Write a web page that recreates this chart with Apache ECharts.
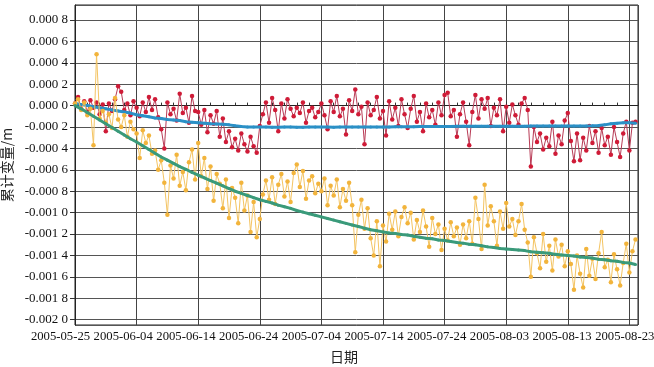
<!DOCTYPE html>
<html>
<head>
<meta charset="utf-8">
<script src="https://cdn.jsdelivr.net/npm/echarts@6/dist/echarts.min.js"></script>
<style>
  html, body { margin: 0; padding: 0; background: #fff; }
  #chart { width: 654px; height: 367px; }
</style>
</head>
<body>
<div id="chart"></div>
<script>
// values in units of 0.0001 m
const xTickLabels = ["2005-05-25", "2005-06-04", "2005-06-14", "2005-06-24", "2005-07-04",
  "2005-07-14", "2005-07-24", "2005-08-03", "2005-08-13", "2005-08-23"]

// sampled every half day
const redValues = [
  0.2, 0.8, -0.3, 0.4, -0.6, 0.5, -0.2, 0.3, -0.8, 0.1, -2.4, 0.2, -0.5, 0.6, 1.8, 1.3, -0.4, 0.2, -0.9, 0.4,
  -0.2, -1.0, 0.3, -0.6, 0.8, -0.4, 0.6, -1.1, -2.2, -4.0, 0.3, -0.8, -0.3, -1.4, 1.1, -0.7, -0.2, -1.6, 0.9, -0.5,
  -0.6, -1.8, -0.4, -2.5, -0.9, -1.7, -0.5, -2.9, -1.2, -3.4, -2.4, -3.9, -3.1, -4.2, -2.6, -3.6, -4.3, -2.9, -3.8, -4.4,
  -1.9, -0.8, 0.3, -1.6, 0.7, -0.4, -2.4, 0.2, -1.2, 0.6, -0.3, -1.0, -0.2, -0.7, 0.3, -1.6, -0.5, -0.2, -1.1, -0.6,
  0.2, -0.9, -2.2, 0.4, -0.6, 0.9, -1.0, -0.3, -2.7, 0.5, -0.5, 1.5, -0.8, -0.1, -3.6, 0.3, -0.9, -0.4, 0.8, -1.2,
  -0.5, -2.8, 0.4, -1.3, -0.2, -1.9, 0.6, -0.8, -2.1, -0.3, 0.9, -1.5, -0.6, -2.4, 0.2, -1.1, -0.4, -1.8, 0.3, -0.9,
  1.0, 1.2, -1.0, -0.4, -2.9, -0.8, 0.3, -1.5, -3.7, -0.6, 1.0, -1.2, 0.6, -0.3, 0.7, -1.9, -0.2, -0.9, 0.6, -2.4,
  -0.1, -1.6, 0.1, -0.9, -1.8, 0.2, 0.7, -0.4, -5.7, -2.0, -3.4, -2.6, -4.1, -3.0, -3.8, -1.5, -4.5, -2.8, -3.6, -1.4,
  -0.7, -3.3, -5.2, -2.6, -5.1, -3.0, -4.2, -1.9, -3.5, -2.4, -4.4, -2.1, -3.7, -2.9, -4.6, -2.0, -3.4, -4.8, -2.6, -1.5,
  -4.2, -1.6, -1.5
]

const yellowValues = [
  0.2, 0.6, -0.4, 0.3, -0.9, -0.3, -3.7, 4.8, -1.2, -0.5, -1.6, -0.8, -2.1, 0.7, -1.3, -2.0, -0.9, -2.9, -1.5, -2.2,
  -2.6, -4.9, -2.3, -3.5, -2.8, -4.5, -4.2, -6.0, -5.1, -7.2, -10.2, -5.6, -6.8, -4.6, -7.5, -6.2, -7.9, -5.3, -4.1, -6.9,
  -3.5, -6.6, -4.9, -7.8, -5.7, -8.9, -6.4, -7.3, -9.6, -6.9, -10.5, -7.7, -8.6, -11.0, -7.2, -9.8, -8.4, -11.8, -9.0, -12.3,
  -10.6, -8.3, -7.0, -8.8, -6.7, -9.2, -7.4, -6.4, -8.5, -7.1, -9.0, -6.3, -5.5, -7.6, -6.1, -8.7, -7.0, -6.6, -8.2, -7.3,
  -8.0, -6.8, -9.3, -7.5, -8.4, -6.9, -9.5, -7.8, -8.9, -7.2, -9.3, -13.7, -10.2, -8.8, -11.5, -9.6, -12.4, -14.0, -10.8, -15.0,
  -11.2, -12.7, -10.1, -11.6, -9.9, -12.2, -10.4, -9.5, -11.0, -10.0, -12.5, -10.7, -11.8, -9.8, -11.3, -13.2, -10.5, -12.0, -11.1, -13.5,
  -11.5, -12.6, -10.9, -12.2, -11.4, -13.0, -11.1, -12.4, -10.8, -12.9, -8.6, -10.6, -13.4, -7.4, -11.2, -9.4, -10.8, -13.1, -9.9, -11.5,
  -9.1, -11.3, -10.6, -12.1, -10.8, -9.2, -11.6, -12.8, -16.0, -12.3, -13.8, -15.2, -12.0, -14.6, -13.1, -15.4, -12.5, -14.1, -13.0, -15.0,
  -13.6, -14.8, -17.2, -14.0, -15.7, -17.0, -13.4, -15.9, -14.3, -16.2, -13.8, -11.8, -15.1, -14.4, -16.5, -13.9, -15.3, -16.8, -14.7, -12.9,
  -15.6, -13.6, -12.5
]

// sampled every day
const blueValues = [
  0.2, 0.1, 0.0, -0.1, -0.2, -0.3, -0.4, -0.5, -0.6, -0.7,
  -0.85, -0.95, -1.05, -1.15, -1.2, -1.3, -1.35, -1.4, -1.5, -1.55,
  -1.6, -1.65, -1.7, -1.72, -1.75, -1.8, -1.88, -1.95, -2.0, -2.0,
  -2.0, -2.0, -2.02, -2.02, -2.0, -2.0, -2.02, -2.02, -2.0, -2.0,
  -2.0, -2.0, -2.02, -2.0, -2.0, -2.0, -2.0, -2.0, -2.0, -2.0,
  -2.0, -2.0, -1.98, -1.98, -1.97, -1.97, -1.96, -1.96, -1.95, -1.95,
  -1.95, -1.95, -1.94, -1.94, -1.94, -1.93, -1.93, -1.93, -1.93, -1.93,
  -1.92, -1.92, -1.92, -1.92, -1.91, -1.91, -1.91, -1.9, -1.9, -1.9,
  -1.9, -1.9, -1.9, -1.9, -1.88, -1.85, -1.8, -1.7, -1.65, -1.6,
  -1.6, -1.65
]

const greenValues = [
  0, -0.3, -0.65, -1.0, -1.35, -1.7, -2.05, -2.4, -2.75, -3.1,
  -3.4, -3.75, -4.1, -4.45, -4.8, -5.1, -5.4, -5.7, -5.95, -6.25,
  -6.5, -6.75, -7.0, -7.25, -7.5, -7.75, -8.0, -8.2, -8.4, -8.6,
  -8.8, -8.95, -9.1, -9.3, -9.45, -9.6, -9.8, -9.95, -10.1, -10.25,
  -10.4, -10.55, -10.7, -10.85, -11.0, -11.15, -11.3, -11.45, -11.6, -11.7,
  -11.8, -11.9, -11.95, -12.05, -12.1, -12.2, -12.3, -12.4, -12.45, -12.55,
  -12.6, -12.7, -12.8, -12.85, -12.95, -13.0, -13.1, -13.2, -13.25, -13.35,
  -13.4, -13.45, -13.5, -13.55, -13.65, -13.7, -13.75, -13.8, -13.9, -13.95,
  -14.0, -14.05, -14.15, -14.2, -14.25, -14.35, -14.4, -14.5, -14.55, -14.65,
  -14.7, -14.85
]

const UNIT = 1e-4

function toPairs(values, step) {
  return values.map((v, i) => [i * step, v * UNIT])
}

function fmtY(value) {
  const k = Math.round(value / 0.0002)
  if (Math.abs(value - k * 0.0002) > 1e-9) return ""
  const s = (k === 0 ? 0 : k * 0.0002).toFixed(4)
  return s.slice(0, -1) + " " + s.slice(-1)
}

// the original's date labels sit a little left of their ticks, less so toward the right
const xLabelRich = {}
xTickLabels.forEach((t, k) => {
  const shift = 14.5 - 1.1 * k
  xLabelRich["d" + k] = { padding: [0, shift * 2, 0, 0] }
})

function fmtX(value) {
  const k = Math.round(value / 10)
  if (Math.abs(value - k * 10) > 1e-6) return ""
  if (!xTickLabels[k]) return ""
  return "{d" + k + "|" + xTickLabels[k] + "}"
}

const chart = echarts.init(document.getElementById("chart"), null, { renderer: "canvas" })

const serif = "'Liberation Serif', 'DejaVu Serif', serif"
const cjk = "'Noto Sans CJK SC', sans-serif"

const option = {
  animation: false,
  backgroundColor: "#fff",
  grid: {
    left: 75,
    right: 16,
    top: 5,
    bottom: 42,
    outerBoundsMode: "none",
    containLabel: false,
    show: true,
    borderColor: "#222",
    borderWidth: 1
  },
  xAxis: {
    type: "value",
    min: 0,
    max: 91.4,
    interval: 10,
    name: "日期",
    nameLocation: "middle",
    nameGap: 25,
    nameTextStyle: { fontFamily: cjk, fontSize: 14, color: "#222", padding: [0, 25, 0, 0] },
    axisLine: { show: true, lineStyle: { color: "#222" } },
    axisTick: { show: true, inside: true, length: 4, lineStyle: { color: "#333" } },
    minorTick: { show: true, splitNumber: 5, length: 3, lineStyle: { color: "#333" } },
    axisLabel: {
      formatter: fmtX,
      rich: xLabelRich,
      showMinLabel: true,
      showMaxLabel: false,
      hideOverlap: false,
      color: "#111",
      fontFamily: serif,
      fontSize: 12.7,
      margin: 5
    },
    splitLine: { show: true, lineStyle: { color: "#444", width: 1 } }
  },
  yAxis: {
    type: "value",
    min: -0.00205,
    max: 0.00094,
    splitNumber: 15,
    minInterval: 0.0002,
    maxInterval: 0.0002,
    name: "累计变量/m",
    nameLocation: "middle",
    nameGap: 56,
    nameTextStyle: { fontFamily: cjk, fontSize: 14, color: "#222" },
    axisLine: { show: true, lineStyle: { color: "#222" } },
    axisTick: { show: true, inside: false, length: 5, lineStyle: { color: "#333" } },
    axisLabel: {
      formatter: fmtY,
      showMinLabel: false,
      showMaxLabel: false,
      color: "#111",
      fontFamily: serif,
      fontSize: 13,
      margin: 7
    },
    splitLine: { show: true, lineStyle: { color: "#555", width: 1 } }
  },
  series: [
    {
      name: "red",
      type: "line",
      data: toPairs(redValues, 0.5),
      symbol: "circle",
      symbolSize: 4.5,
      itemStyle: { color: "#cf1b37" },
      lineStyle: { color: "#b83a55", width: 1 },
      z: 2
    },
    {
      name: "blue",
      type: "line",
      data: toPairs(blueValues, 1),
      symbol: "circle",
      symbolSize: 3,
      itemStyle: { color: "#2b90c6" },
      lineStyle: { color: "#2b90c6", width: 3 },
      z: 3
    },
    {
      name: "yellow",
      type: "line",
      data: toPairs(yellowValues, 0.5),
      symbol: "circle",
      symbolSize: 4.5,
      itemStyle: { color: "#f2b43c" },
      lineStyle: { color: "#f4c462", width: 1 },
      z: 4
    },
    {
      name: "green",
      type: "line",
      data: toPairs(greenValues, 1),
      symbol: "circle",
      symbolSize: 3,
      itemStyle: { color: "#3a9a7a" },
      lineStyle: { color: "#3a9a7a", width: 3 },
      z: 5
    }
  ]
}

chart.setOption(option)
</script>
</body>
</html>
